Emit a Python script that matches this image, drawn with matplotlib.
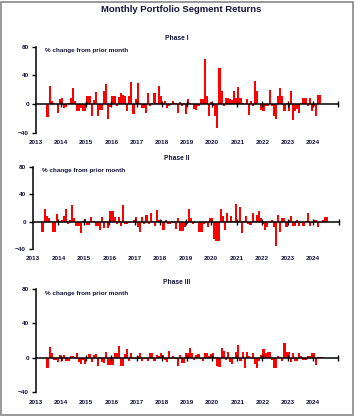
import matplotlib.pyplot as plt
import numpy as np
import pandas as pd
from matplotlib.patches import Rectangle

# monthly % change
phase1 = [-18, 26, 5, 2, 1, -12, 7, 8, -5, -4, 2, 9, 23, 5, -9, -9, -5, -10, -10, 11,
          11, -16, 6, 17, -16, -8, -8, 19, 28, -20, -4, 12, 12, -3, 10, 16, 13, 12, -9, 11,
          31, -13, 7, 29, 2, -5, -5, -12, 16, -3, 2, 16, 2, 25, 12, -1, 5, -5, -3, -1,
          4, 2, -12, 3, -3, 2, -13, 7, 2, 0.5, -6, -8, -3, 7, 7, 63, 12, -16, 3, -3,
          -16, -33, 50, 19, -3, 8, 8, 7, 6, 19, 8, 24, 8, 2, 0.5, 7, -15, 5, -3, 32,
          19, 0.5, -8, -9, -3, -3, 20, -2, -16, -21, 11, 23, 11, -10, 2, -10, 19, -22, -10, -6,
          -12, 2, 8, 8, -3, 8, -10, -3, -17, 13, 13]
phase2 = [-15, 18, 8, 6, 0.5, -15, -15, 11, 0.5, 3, 9, 19, -3, 3, 24, 6, -6, -6, -17, 0.5,
          4, -5, -5, 7, 0.5, -6, -6, -12, 7, -9, 0.5, -9, 15, 15, 7, -4, 7, -7, 25, -4,
          -3, -2, -1, 2, 7, -8, -15, 7, -3, 10, -4, 13, 0.5, -6, 17, 3, 2, -12, 2, -3,
          -3, 0.5, -2, -10, 5, -14, -14, -8, -3, 18, 5, -4, -2, -1, -15, -15, -3, -2, -8, 6,
          6, -25, -29, -29, 18, 9, -12, 12, 0.5, 8, 0.5, 26, 0.5, 22, -17, 0.5, 9, -3, -5, 12,
          0.5, 10, 16, 5, -3, -12, -8, 0.5, 3, -8, -35, 10, -15, 5, 5, -8, 2, 9, -6, -6,
          2, -6, -2, -7, 0.5, 12, -7, -2, 3, 3, -8, -2, 2, 7, 7]
phase3 = [-12, 12, 5, -3, -3, -5, 3, -4, 3, -4, -4, 2, 2, 0.5, 6, -5, -7, -3, -7, 0.5,
          4, -5, 3, 4, -10, 0.5, -5, -6, 7, -8, -8, -8, 5, 6, 14, -10, -10, 4, 10, -4,
          5, -2, -1, 2, 5, -4, -2, -2, -4, 5, 5, -4, 3, 2, 6, 3, -3, -5, 8, -2,
          2, -2, -10, 3, -6, -6, 5, 5, 11, 5, -3, 3, 4, -2, -4, 6, 6, 2, 4, 5,
          0.5, -10, -11, 11, 8, -3, 7, -5, -7, 0.5, 7, 15, -4, 7, -12, 7, 2, 0.5, 6, -7,
          -12, -4, 3, 10, 5, 7, 7, -3, -12, -12, 2, 0.5, -4, 17, 7, 7, -5, 5, -4, -4,
          5, 2, -3, -3, 2, 2, 6, 6, -8, 1, 1, 1]

series = [("Phase I", phase1, "2013-06"), ("Phase II", phase2, "2013-05"), ("Phase III", phase3, "2013-06")]
years = list(range(2013, 2025))

W, H = 355, 416
fig = plt.figure(figsize=(W / 100, H / 100), dpi=100)
plt.rcParams['font.family'] = ['Liberation Sans', 'DejaVu Sans']
txt = '#14143a'

# axes boxes in pixels: left, right, top(80), bottom(-40), title y
boxes = [(36, 338, 46.7, 133, 39), (33, 338.5, 167, 249, 159), (36, 338, 289, 392, 283)]

for (name, vals, start), (l, r, t, b, ty) in zip(series, boxes):
    ax = fig.add_axes([l / W, 1 - b / H, (r - l) / W, (b - t) / H])
    months = pd.period_range(start, periods=len(vals), freq='M')
    x = months.year + (months.month - 1) / 12
    ax.bar(x, vals, width=1 / 12, align='edge', color='#ff0000', linewidth=0)
    ax.set_xlim(2013, 2025)
    ax.set_ylim(-40, 80)
    for s in ['top', 'right']:
        ax.spines[s].set_visible(False)
    ax.spines['bottom'].set_position(('data', 0))
    ax.spines['bottom'].set_linewidth(1.1)
    ax.spines['left'].set_linewidth(1.1)
    ax.set_xticks(range(2014, 2026))
    ax.tick_params(axis='x', direction='inout', length=5, width=1, labelbottom=False)
    ax.set_yticks([-40, 0, 40, 80])
    ax.tick_params(axis='y', direction='out', length=3, width=1, labelsize=4.6, pad=2,
                   labelcolor=txt)
    for lbl in ax.get_yticklabels():
        lbl.set_fontweight('bold')
    for yr in years:
        fig.text((l + (yr - 2013) * (r - l) / 12) / W, 1 - (b + 10) / H, str(yr),
                 ha='center', va='center', fontsize=4.6, fontweight='bold', color=txt)
    ax.text(0.03, 0.96, "% change from prior month", transform=ax.transAxes,
            ha='left', va='center', fontsize=4.6, fontweight='bold', color=txt)
    fig.text(177 / W, 1 - ty / H, name, ha='center', va='center', fontsize=4.8,
             fontweight='bold', color=txt)

fig.text(181 / W, 1 - 10 / H, "Monthly Portfolio Segment Returns", ha='center', va='center',
         fontsize=6.8, fontweight='bold', color=txt)

# grey frame around the whole chart
fig.add_artist(Rectangle((1 / W, 1.5 / H), 351.5 / W, 413 / H, transform=fig.transFigure,
                         fill=False, edgecolor='#888888', linewidth=1.2))

fig.savefig("out.png", dpi=100)
